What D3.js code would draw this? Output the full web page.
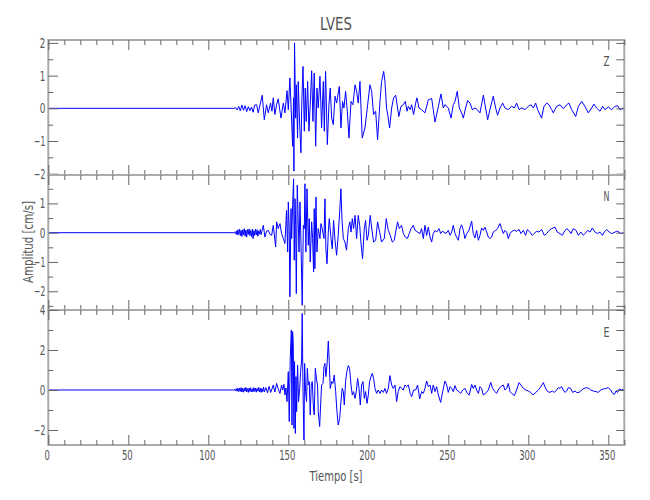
<!DOCTYPE html>
<html><head><meta charset="utf-8">
<script src="https://cdn.jsdelivr.net/npm/d3@7"></script>
<style>body{margin:0;background:#fff}</style>
</head><body>
<svg id="c" width="650" height="500"></svg>
<script>
const chartTitle = "LVES";
const xLabel = "Tiempo [s]";
const yLabel = "Amplitud [cm/s]";
const componentNames = ["Z", "N", "E"];
const xMajorTicks = [0, 50, 100, 150, 200, 250, 300, 350];
const xMinorTicks = d3.range(0, 361, 10);
const zMajorTicks = [-2, -1, 0, 1, 2];
const zMinorTicks = [-1.5, -0.5, 0.5, 1.5];
const nMajorTicks = [-2, -1, 0, 1];
const nMinorTicks = [-2.5, -1.5, -0.5, 0.5, 1.5];
const eMajorTicks = [-2, 0, 2, 4];
const eMinorTicks = [-1, 1, 3];

// [time s, amplitude cm/s]
const traceZ = [
[0,0],[116,0],[117,0.02],[118,-0.05],[119,0.06],[120,-0.08],[121,0.1],[122,-0.06],[123,0.08],[124,-0.1],[125,0.05],[126,-0.07],[127,0.04],[128,-0.12],[129,0.1],[130.2,0.11],[131.2,-0.14],[133.7,0.40],[135.0,-0.35],[136.4,0.11],[137.5,-0.14],[138.9,0.16],[139.8,-0.09],[140.6,0.32],[141.6,-0.19],[142.7,0.11],[143.7,0.29],[145.4,-0.30],[146.9,0.16],[147.9,-0.14],[149.2,0.54],[150.0,-0.04],[151.0,0.93],[152.1,-0.40],[152.7,-1.16],[153.3,0.32],[153.5,-1.92],[153.9,2.0],[154.6,-0.30],[155.0,0.72],[155.8,-0.91],[156.2,0.82],[157.1,-0.50],[157.9,-1.36],[158.5,0.32],[159.2,1.28],[160.0,-0.70],[160.6,0.62],[161.2,-0.40],[162.1,0.82],[162.9,-0.70],[163.7,0.11],[164.6,1.15],[165.4,-0.40],[166.2,1.08],[167.1,-1.16],[167.9,0.62],[168.7,0.01],[169.8,0.98],[170.8,-0.60],[171.9,0.82],[172.5,-0.70],[173.3,1.13],[174.4,-1.11],[175.4,0.11],[176.2,0.62],[177.1,-0.30],[178.1,-0.50],[179.2,0.37],[180.2,0.16],[181.9,0.67],[182.9,-0.60],[183.9,0.21],[184.8,0.01],[185.8,0.52],[186.9,-0.09],[187.9,-0.91],[189.2,0.21],[190.4,0.11],[191.7,0.72],[192.7,0.52],[193.7,0.16],[194.8,0.82],[196.2,-0.91],[197.9,-0.60],[199.6,0.11],[201.0,0.72],[202.1,0.52],[203.3,-0.19],[204.6,-0.09],[205.8,-0.96],[207.3,0.21],[208.3,0.82],[209.6,1.13],[210.4,0.82],[211.4,0.01],[212.5,-0.30],[213.3,-0.60],[214.6,0.01],[215.8,0.32],[217.1,0.40],[218.3,0.01],[219.1,-0.25],[220.4,0.06],[221.9,0.11],[223.1,0.21],[224.2,-0.09],[225.0,0.06],[226.2,-0.04],[227.1,0.11],[228.3,-0.19],[229.6,0.16],[230.4,0.32],[231.7,0.01],[233.3,-0.04],
[235.4,-0.14],[237.5,0.26],[239.6,0.30],[240.6,-0.04],[241.7,-0.42],[243.8,0.06],[245.4,0.44],[246.9,0.01],[247.9,0.11],[250.0,0.01],[251.7,-0.30],[253.1,0.11],[254.2,0.21],[255.6,0.52],[256.9,0.01],[258.3,-0.14],[259.4,-0.30],[260.8,0.01],[262.1,0.24],[263.6,0.16],[265.0,-0.04],[266.7,0.01],[268.1,-0.04],[269.8,-0.14],[271.9,0.40],[273.3,0.01],[274.6,-0.35],[276.0,-0.04],[278.1,0.37],[279.6,0.01],[280.8,-0.21],[282.3,0.01],[284.0,0.16],[285.4,0.01],[287.5,-0.04],[289.6,0.06],[291.3,0.01],[292.7,0.16],[294.2,-0.04],[295.8,0.01],[297.9,-0.04],[300.0,0.06],[301.7,0.11],[303.1,0.01],[304.6,0.16],[305.8,-0.04],[308.3,-0.30],[309.8,0.06],[311.5,0.16],[312.9,0.11],[314.6,-0.04],[315.6,-0.14],[317.7,0.06],[319.8,0.11],[321.9,-0.01],[324.0,0.11],[325.4,0.16],[327.1,-0.04],[329.6,-0.25],[331.3,0.06],[333.4,0.21],[335.4,0.06],[337.5,-0.14],[339.6,0.01],[341.0,0.13],[342.7,0.01],[344.8,-0.09],[346.5,0.06],[347.9,-0.04],[350.0,0.04],[352.1,-0.04],[354.2,0.06],[355.8,0.08],[357.3,-0.04],[359.4,0.01],[360,0]
];

const traceN = [
[0,0],[116,0],[116.5,0.02],[117,-0.04],[117.5,0.06],[118,-0.08],[118.5,0.1],[119,-0.06],[119.5,0.12],[120,-0.1],[120.5,0.08],[121,-0.13],[121.5,0.1],[122,-0.07],[122.5,0.14],[123,-0.12],[123.5,0.09],[124,-0.15],[124.5,0.11],[125,-0.06],[125.5,0.13],[126,-0.1],[126.5,0.08],[127,-0.14],[127.5,0.12],[128,-0.2],[128.5,0.07],[129,-0.09],[129.5,0.12],[130,-0.08],[130.5,0.1],[131,-0.12],[131.5,0.06],[132,-0.05],[132.5,0.11],[133,-0.07],[133.5,0.05],
[134.4,0.25],[135.4,-0.15],[136.4,0.05],[137.5,0.08],[138.5,-0.05],[139.6,-0.09],[140.6,0.25],[142.1,-0.49],[142.7,0.37],[143.7,0.14],[144.8,0.31],[145.8,-0.03],[146.9,-0.20],[147.9,-0.37],[148.9,0.76],[149.6,-0.66],[150.0,1.05],[150.6,0.08],[151.0,-2.19],[151.7,0.82],[152.1,-0.20],[152.7,0.93],[153.3,1.84],[153.7,-0.94],[154.2,1.16],[154.6,0.25],[155.0,-2.08],[155.6,1.62],[156.2,0.37],[156.7,-0.66],[157.3,1.05],[157.9,-0.32],[158.7,-2.48],[159.4,0.25],[160.0,0.14],[160.4,1.67],[161.0,-0.66],[161.7,1.50],[162.5,-0.43],[163.1,0.48],[163.7,-1.0],[164.6,0.37],[165.2,-0.20],[165.8,-1.34],[166.2,0.82],[166.6,-1.23],[167.3,1.22],[167.9,-0.66],[168.7,0.14],[169.8,-0.20],[170.4,0.31],[171.2,0.14],[172.3,-0.20],[172.9,1.16],[173.5,-0.55],[174.2,-1.06],[175.0,0.02],[175.6,0.48],[176.7,-0.20],[177.5,-0.55],[178.3,0.42],[179.2,-0.26],[180.2,-0.77],[181.2,-0.09],[182.1,0.71],[182.9,1.50],[183.5,0.48],[184.4,-0.20],[185.4,-0.32],[186.4,-0.60],[187.5,0.14],[188.5,0.37],[189.2,0.02],[190.0,0.48],[190.8,0.14],[191.7,0.59],[192.7,-0.20],[193.7,0.59],[194.6,0.25],[195.4,-0.32],[196.4,-0.89],[197.5,0.14],[198.3,0.42],[199.2,-0.26],[200.0,-0.09],[201.2,0.59],[202.3,0.08],[203.3,-0.32],[204.6,-0.26],[205.8,0.37],[207.1,0.02],[208.3,-0.32],[210.0,-0.20],[211.2,0.48],[212.5,0.08],[213.7,-0.09],[215.0,-0.32],[216.2,-0.26],[217.1,0.02],[218.3,0.37],[219.4,0.14],[220.8,0.25],[221.9,-0.03],[223.1,-0.15],[224.4,-0.20],[225.6,-0.03],[226.7,0.14],[228.1,0.25],[229.2,0.08],[230.8,0.02],
[232.3,-0.03],[233.3,0.14],[234.4,-0.20],[235.4,0.25],[236.5,-0.09],[237.5,0.19],[238.6,-0.15],[239.6,-0.32],[240.6,-0.03],[241.7,0.08],[242.7,0.02],[244.2,0.14],[245.2,-0.03],[246.3,0.05],[247.3,0.02],[248.6,-0.03],[250.0,0.08],[251.1,-0.09],[252.1,0.02],[253.1,0.25],[254.2,-0.03],[255.2,-0.15],[256.3,-0.26],[257.3,0.14],[258.3,0.27],[259.4,0.08],[260.4,-0.20],[261.5,-0.03],[262.9,0.08],[264.6,0.39],[265.6,-0.03],[266.7,-0.18],[267.7,0.08],[268.8,-0.26],[269.8,-0.09],[270.8,0.16],[271.9,0.08],[272.9,0.19],[274.0,0.02],[275.0,-0.15],[276.1,-0.20],[277.1,-0.15],[278.1,0.02],[279.6,0.08],[280.8,0.14],[282.3,0.31],[283.3,0.14],[284.4,-0.03],[285.4,0.08],[286.5,0.02],[287.5,-0.20],[288.6,-0.03],[290.0,0.06],[291.3,0.08],[292.7,0.05],[294.2,0.11],[295.4,-0.03],[296.9,0.08],[298.3,-0.09],[299.4,0.11],[301.0,0.02],[302.5,-0.09],[303.6,-0.03],[305.2,0.05],[306.7,0.02],[308.3,0.11],[310.0,-0.09],[311.5,-0.03],[313.1,0.08],[314.6,0.14],[316.7,0.19],[318.1,0.02],[319.8,-0.03],[321.3,-0.09],[322.3,0.02],[324.0,0.14],[325.4,0.08],[326.7,-0.03],[328.1,0.14],[329.8,0.08],[331.3,-0.09],[332.9,0.02],[334.4,-0.09],[335.4,-0.03],[337.1,0.08],[338.6,0.02],[340.0,0.16],[341.7,0.02],[343.1,-0.03],[344.8,0.02],[346.3,-0.09],[347.5,0.02],[349.0,0.11],[350.6,0.02],[352.1,-0.03],[353.5,0.0],[355.2,0.05],[356.7,0.02],[357.9,-0.03],[359.4,0.0],[360,0]
];

const traceE = [
[0,0],[116,0],[116.5,0.03],[117,-0.05],[117.5,0.07],[118,-0.06],[118.5,0.09],[119,-0.08],[119.5,0.1],[120,-0.07],[120.5,0.12],[121,-0.1],[121.5,0.08],[122,-0.11],[122.5,0.1],[123,-0.06],[123.5,0.13],[124,-0.09],[124.5,0.07],[125,-0.12],[125.5,0.1],[126,-0.08],[126.5,0.11],[127,-0.1],[127.5,0.06],[128,-0.09],[128.5,0.12],[129,-0.07],[129.5,0.1],[130,-0.11],[130.5,0.08],[131,-0.06],[131.5,0.13],[132,-0.1],[132.5,0.09],[133,-0.12],[133.5,0.07],[134,-0.08],[134.5,0.14],[135,-0.1],[136,0.12],[137,-0.14],[138,0.18],[139,-0.12],[140,0.1],
[140.6,0.25],[141.6,-0.1],[142.7,0.33],[143.7,0.05],[144.8,-0.17],[145.8,0.25],[146.5,0.0],[147.3,0.28],[147.9,-0.25],[148.5,0.1],[149.2,-0.58],[150.0,0.92],[150.6,-1.58],[151.2,1.58],[151.9,3.0],[152.3,-1.75],[152.7,2.92],[153.1,2.33],[153.5,-1.92],[153.9,1.42],[154.4,-2.17],[154.8,0.67],[155.2,-1.08],[155.8,1.25],[156.4,-0.58],[157.1,0.08],[157.7,0.92],[158.3,1.5],[158.7,3.83],[159.2,-0.08],[159.8,-2.5],[160.2,1.33],[160.8,-0.08],[161.4,-0.58],[161.9,1.08],[162.5,0.25],[163.1,0.42],[163.7,-1.25],[164.4,0.33],[165.0,0.42],[165.6,-0.75],[166.2,-1.25],[166.9,1.08],[167.7,0.5],[168.3,0.25],[168.7,-1.08],[169.6,-1.83],[170.2,-0.75],[170.8,0.25],[171.7,0.33],[172.3,1.17],[172.9,1.33],[173.5,0.67],[174.2,1.25],[175.0,2.45],[175.6,1.42],[176.2,0.08],[177.1,0.42],[177.9,0.33],[178.7,0.75],[179.6,-0.08],[180.4,-1.08],[181.2,-1.75],[182.1,-1.42],[182.9,-0.58],[183.7,0.08],[184.4,-0.08],[185.0,-0.75],[185.8,0.42],[186.6,0.92],[187.5,1.22],[188.3,1.08],[189.2,0.25],[190.0,-0.25],[190.8,-0.08],[191.7,-0.42],[192.5,-0.08],[193.3,0.58],[194.2,0.08],[195.0,-0.75],[195.8,0.25],[196.7,0.42],[197.5,-0.42],[198.3,-0.08],[199.2,-0.67],[200.0,-0.25],[200.8,0.42],[201.7,0.67],[202.5,0.83],[203.3,0.58],[204.2,0.08],[205.2,-0.17],[206.2,0.0],[207.3,-0.17],[208.3,0.0],[209.4,-0.12],[210.4,0.08],[211.4,-0.17],[212.5,0.08],[213.5,0.72],[214.6,0.25],[215.6,0.08],[216.7,0.25],[217.7,-0.58],[218.7,-0.08],[219.8,0.17],[220.8,0.08],[221.9,0.0],[222.9,0.25],[223.9,0.17],[225.0,0.25],[226.2,-0.17],[227.1,-0.33],[228.3,0.0],[229.6,0.0],[230.8,0.25],[232.1,-0.45],
[233.3,-0.08],[234.4,-0.17],[235.4,0.08],[236.5,0.45],[237.5,0.17],[238.6,0.25],[239.6,-0.17],[240.6,0.25],[241.7,-0.08],[242.7,0.17],[243.8,-0.25],[245.2,-0.62],[246.5,-0.08],[247.9,0.45],[249.0,0.25],[250.0,-0.12],[251.1,0.17],[252.1,0.08],[253.1,-0.08],[254.2,0.22],[255.2,0.0],[256.7,-0.08],[257.7,-0.17],[259.0,0.0],[260.4,0.08],[261.9,-0.17],[263.1,-0.25],[264.6,0.28],[265.6,0.08],[266.7,0.25],[267.7,0.0],[268.8,-0.17],[269.8,0.17],[270.8,0.08],[271.9,-0.25],[273.3,-0.17],[275.0,0.0],[276.5,0.38],[277.7,0.08],[279.2,-0.08],[280.2,-0.17],[281.7,0.08],[282.9,0.17],[284.4,0.25],[285.4,0.0],[286.5,0.08],[287.5,0.33],[288.6,-0.08],[289.6,-0.17],[291.3,-0.28],[292.7,0.0],[294.2,0.37],[295.4,0.25],[296.9,0.08],[298.5,0.0],[300.0,-0.05],[301.5,-0.12],[303.1,-0.25],[304.6,-0.12],[306.3,0.0],[307.9,0.17],[309.4,0.37],[310.8,0.08],[312.1,-0.08],[313.5,-0.12],[315.0,-0.05],[316.3,-0.12],[317.7,0.0],[318.8,0.12],[319.8,0.08],[320.8,0.17],[321.9,0.0],[322.9,-0.12],[324.0,-0.05],[325.0,0.12],[326.5,0.08],[327.7,-0.12],[329.2,-0.05],[330.2,-0.12],[331.9,-0.12],[333.3,0.0],[334.8,0.08],[336.5,0.12],[337.9,0.08],[339.0,0.0],[340.6,-0.05],[342.3,-0.08],[343.8,-0.12],[345.2,0.0],[346.9,0.05],[348.5,0.08],[350.0,0.12],[351.5,0.0],[352.7,-0.17],[353.8,-0.22],[354.8,-0.05],[355.8,-0.12],[356.9,0.05],[358.3,0.0],[359.4,0.05],[360,0]
];

const svg = d3.select("#c");
const W0 = 48.3, W1 = 624.3, H = 135;
const FONT = "'DejaVu Sans', sans-serif";
const TXT = "#555";
const x = d3.scaleLinear().domain([0, 360]).range([W0, W1]);

const panels = [
  {name: componentNames[0], data: traceZ, dom: [-2.04, 2.09], top: 40, major: zMajorTicks, minor: zMinorTicks, ly: 66},
  {name: componentNames[1], data: traceN, dom: [-2.64, 1.97], top: 175, major: nMajorTicks, minor: nMinorTicks, ly: 201},
  {name: componentNames[2], data: traceE, dom: [-2.75, 4.0], top: 310, major: eMajorTicks, minor: eMinorTicks, ly: 337}
];

function styleAxis(g) {
  g.select(".domain").remove();
  g.selectAll(".tick line").attr("stroke", "#666").attr("stroke-width", 1);
}
function squeeze(sel, per) {
  sel.attr("font-family", FONT).attr("font-size", 14).attr("fill", TXT)
    .attr("lengthAdjust", "spacingAndGlyphs")
    .attr("textLength", function() { return this.textContent.length * per; });
}

panels.forEach((p, i) => {
  const y = d3.scaleLinear().domain(p.dom).range([p.top + H, p.top]);
  const g = svg.append("g");
  const clipId = "clip" + i;
  svg.append("clipPath").attr("id", clipId).append("rect")
    .attr("x", W0).attr("y", p.top).attr("width", W1 - W0).attr("height", H);

  // trace
  g.append("path").datum(p.data)
    .attr("clip-path", `url(#${clipId})`)
    .attr("fill", "none").attr("stroke", "#0000ff").attr("stroke-width", 1)
    .attr("stroke-linejoin", "round")
    .attr("d", d3.line().x(d => x(d[0])).y(d => y(d[1])));

  // frame
  g.append("rect").attr("x", W0).attr("y", p.top).attr("width", W1 - W0).attr("height", H)
    .attr("fill", "none").attr("stroke", "#aaa").attr("stroke-width", 2);

  // x ticks top & bottom
  const xMin = xMinorTicks.filter(v => !xMajorTicks.includes(v));
  g.append("g").attr("transform", `translate(0,${p.top})`)
    .call(d3.axisTop(x).tickValues(xMajorTicks).tickSize(-10).tickFormat("")).call(styleAxis);
  g.append("g").attr("transform", `translate(0,${p.top})`)
    .call(d3.axisTop(x).tickValues(xMin).tickSize(-5).tickFormat("")).call(styleAxis);
  const bot = g.append("g").attr("transform", `translate(0,${p.top + H})`)
    .call(d3.axisBottom(x).tickValues(xMajorTicks).tickSize(-10)
      .tickFormat(i === 2 ? d3.format("d") : "")).call(styleAxis);
  g.append("g").attr("transform", `translate(0,${p.top + H})`)
    .call(d3.axisBottom(x).tickValues(xMin).tickSize(-5).tickFormat("")).call(styleAxis);
  if (i === 2) {
    bot.selectAll(".tick text").attr("y", 15).attr("dy", 0).attr("dx", -1.5).call(squeeze, 5.4);
  }

  // y ticks left & right
  const left = g.append("g").attr("transform", `translate(${W0},0)`)
    .call(d3.axisLeft(y).tickValues(p.major).tickSize(-10).tickPadding(3).tickFormat(d3.format("d")))
    .call(styleAxis);
  left.selectAll(".tick text").call(squeeze, 5.6);
  g.append("g").attr("transform", `translate(${W0},0)`)
    .call(d3.axisLeft(y).tickValues(p.minor).tickSize(-5).tickFormat("")).call(styleAxis);
  g.append("g").attr("transform", `translate(${W1},0)`)
    .call(d3.axisRight(y).tickValues(p.major).tickSize(-8).tickFormat("")).call(styleAxis);
  g.append("g").attr("transform", `translate(${W1},0)`)
    .call(d3.axisRight(y).tickValues(p.minor).tickSize(-8).tickFormat("")).call(styleAxis);

  // component label
  g.append("text").attr("x", 606.5).attr("y", p.ly).attr("text-anchor", "middle")
    .attr("font-family", FONT).attr("font-size", 14).attr("fill", TXT)
    .attr("textLength", 6).attr("lengthAdjust", "spacingAndGlyphs").text(p.name);
});

// title
svg.append("text").attr("x", 336).attr("y", 30).attr("text-anchor", "middle")
  .attr("font-family", FONT).attr("font-size", 18).attr("fill", TXT)
  .attr("textLength", 32).attr("lengthAdjust", "spacingAndGlyphs").text(chartTitle);
// x label
svg.append("text").attr("x", 336).attr("y", 481).attr("text-anchor", "middle")
  .attr("font-family", FONT).attr("font-size", 14).attr("fill", TXT)
  .attr("textLength", 53).attr("lengthAdjust", "spacingAndGlyphs").text(xLabel);
// y label
svg.append("text").attr("transform", "translate(33,242) rotate(-90)").attr("text-anchor", "middle")
  .attr("font-family", FONT).attr("font-size", 14).attr("fill", TXT)
  .attr("textLength", 82).attr("lengthAdjust", "spacingAndGlyphs").text(yLabel);
</script>
</body></html>
